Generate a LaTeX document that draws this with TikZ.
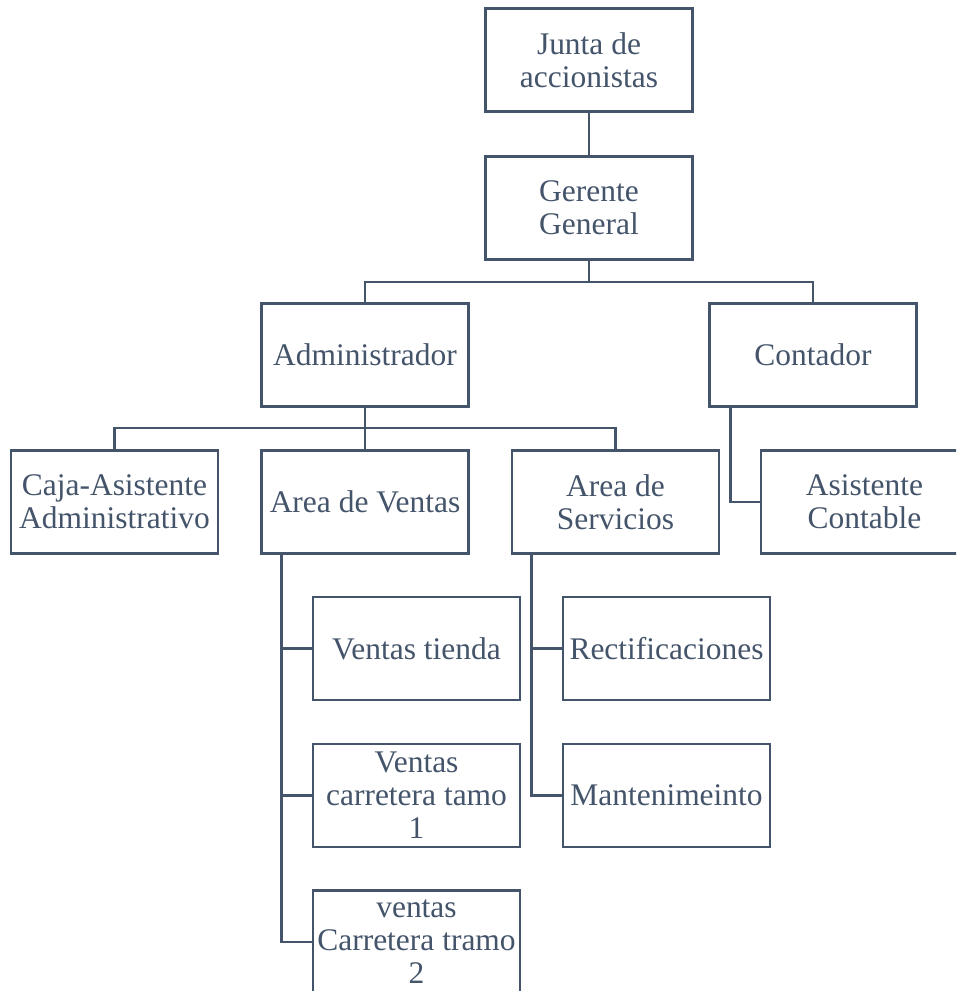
\documentclass[tikz,border=0pt]{standalone}
\usepackage{fontspec}
\setmainfont{Liberation Serif}
\definecolor{orgc}{HTML}{44546A}
\begin{document}
\begin{tikzpicture}[x=0.75pt,y=-0.75pt,
  orgbox/.style={draw=orgc, line width=2.2pt, fill=white, text=orgc,
    minimum width=155.25pt, minimum height=77.25pt, inner sep=1pt,
    align=center, font=\fontsize{23.6}{24.8}\selectfont},
  link/.style={draw=orgc, line width=2.2pt}]
\useasboundingbox (0,0) rectangle (956,991);
\clip (0,0) rectangle (956,991);
\fill[white] (0,0) rectangle (956,991);
% nodes
\node[orgbox] (junta) at (589,60) {Junta de\\accionistas};
\node[orgbox] (gerente) at (589,208) {Gerente\\General};
\node[orgbox] (admin) at (365,355) {Administrador};
\node[orgbox] (contador) at (813,355) {Contador};
\node[orgbox] (caja) at (114.5,502) {Caja-Asistente\\Administrativo};
\node[orgbox] (ventas) at (365,502) {Area de Ventas};
\node[orgbox] (servicios) at (615.5,502) {Area de\\Servicios};
\node[orgbox] (asiscont) at (864.5,502) {Asistente\\Contable};
\node[orgbox] (vtienda) at (416.5,648.5) {Ventas tienda};
\node[orgbox] (vtramo1) at (416.5,795.5) {Ventas\\carretera tamo\\1};
\node[orgbox] (vtramo2) at (416.5,942) {ventas\\Carretera tramo\\2};
\node[orgbox] (rect) at (666.5,648.5) {Rectificaciones};
\node[orgbox] (mant) at (666.5,795.5) {Mantenimeinto};
% junctions
\coordinate (j1) at (589,282);
\coordinate (j2) at (365,428);
% connectors
\draw[link] (junta.south) -- (gerente.north);
\draw[link] (gerente.south) -- (j1);
\draw[link] (admin.north) |- (j1) -| (contador.north);
\draw[link] (admin.south) -- (ventas.north);
\draw[link] (caja.north) |- (j2) -| (servicios.north);
\draw[link] ([xshift=16.5pt]contador.south west) |- (asiscont.west);
\draw[link] ([xshift=15.75pt]ventas.south west) |- (vtramo2.west);
\draw[link] ([xshift=15.75pt]ventas.south west |- vtienda.west) -- (vtienda.west);
\draw[link] ([xshift=15.75pt]ventas.south west |- vtramo1.west) -- (vtramo1.west);
\draw[link] ([xshift=15.75pt]servicios.south west) |- (mant.west);
\draw[link] ([xshift=15.75pt]servicios.south west |- rect.west) -- (rect.west);
\end{tikzpicture}
\end{document}
